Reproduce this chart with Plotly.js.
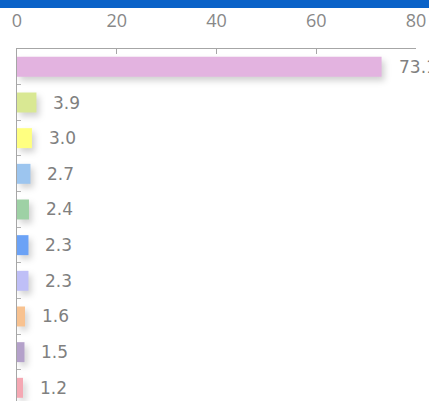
<!DOCTYPE html>
<html>
<head>
<meta charset="utf-8">
<script src="https://cdn.plot.ly/plotly-3.0.1.min.js"></script>
<style>
  html, body { margin: 0; padding: 0; background: #fff; overflow: hidden; }
  #wrap { position: relative; width: 429px; height: 401px; }
  #header { position: absolute; left: 0; top: 0; width: 429px; height: 8px; background: #0a62c8; z-index: 5; }
  #chart { position: absolute; left: 0; top: 0; width: 429px; height: 401px; }
  .bars .point path { filter: drop-shadow(3px 4px 3px rgba(0,0,0,0.18)); }
</style>
</head>
<body>
<div id="wrap">
  <div id="chart"></div>
  <div id="header"></div>
</div>
<script>
const categories = ["c1","c2","c3","c4","c5","c6","c7","c8","c9","c10"];
const values = [73.1, 3.9, 3.0, 2.7, 2.4, 2.3, 2.3, 1.6, 1.5, 1.2];
const labels = ["73.1", "3.9", "3.0", "2.7", "2.4", "2.3", "2.3", "1.6", "1.5", "1.2"];
const colors = ["#e3b3e0","#d9e893","#ffff80","#9cc5ef","#9ed1a5","#6ba2f6","#bfbff7","#f8c290","#b4a1ca","#f5a8b3"];
const tickVals = [0, 20, 40, 60, 80];

const trace = {
  type: "bar",
  orientation: "h",
  x: values,
  y: categories,
  marker: { color: colors, line: { width: 0 } },
  hoverinfo: "none"
};

const annotations = values.map((v, i) => ({
  x: v, y: categories[i], xref: "x", yref: "y",
  text: labels[i], showarrow: false, xanchor: "left", yanchor: "middle",
  xshift: 15,
  font: { family: "DejaVu Sans", size: 17, color: "#808080" }
}));

const layout = {
  width: 429, height: 401,
  margin: { l: 17, r: 13, t: 49, b: 0, pad: 0 },
  paper_bgcolor: "#ffffff",
  plot_bgcolor: "#ffffff",
  showlegend: false,
  bargap: 0.44,
  xaxis: {
    side: "top",
    range: [0, 80],
    tickvals: tickVals,
    ticktext: tickVals.map(String),
    ticks: "inside",
    ticklen: 5,
    tickcolor: "#a6a6a6",
    tickwidth: 1,
    showline: true,
    linecolor: "#a6a6a6",
    linewidth: 1,
    showgrid: false,
    zeroline: false,
    ticklabelstandoff: 14,
    tickfont: { family: "Open Sans", size: 18, color: "#888888" }
  },
  yaxis: {
    type: "category",
    categoryorder: "array",
    categoryarray: categories,
    range: [9.37, -0.5],
    showticklabels: false,
    ticks: "inside",
    tickson: "boundaries",
    ticklen: 4,
    tickcolor: "#b0b0b0",
    showline: true,
    linecolor: "#a6a6a6",
    linewidth: 1,
    showgrid: false,
    zeroline: false
  },
  annotations: annotations
};

Plotly.newPlot("chart", [trace], layout, { staticPlot: true, displayModeBar: false });
</script>
</body>
</html>
